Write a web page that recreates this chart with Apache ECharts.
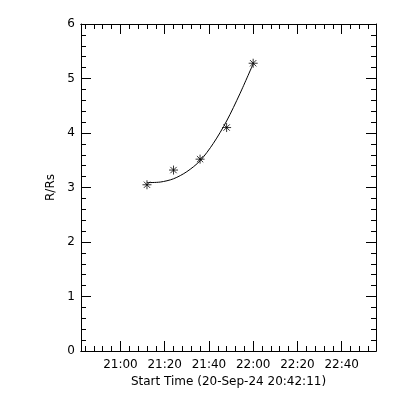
<!DOCTYPE html>
<html><head><meta charset="utf-8">
<script src="https://cdn.jsdelivr.net/npm/echarts@6/dist/echarts.min.js"></script>
<style>html,body{margin:0;padding:0;background:#fff}#c{width:400px;height:400px}</style>
</head><body><div id="c"></div>
<script>
// x values are minutes after 21:00 (start time 20:42:11)
const obsTimes = [12, 24, 36, 48, 60];
const obsHeights = [3.05, 3.32, 3.52, 4.10, 5.28];
const fitTimes = [12, 18, 24, 30, 36, 42, 48, 54, 60];
const fitHeights = [3.09, 3.10, 3.16, 3.29, 3.49, 3.81, 4.22, 4.72, 5.27];
const xMajorTicks = [0, 20, 40, 60, 80, 100];
const xMajorLabels = ['21:00', '21:20', '21:40', '22:00', '22:20', '22:40'];
const xMinorTicks = [-16,-12,-8,-4,4,8,12,16,24,28,32,36,44,48,52,56,64,68,72,76,84,88,92,96,104,108,112];
const xMin = -17.8167, xMax = 115.5167;
const yMin = 0, yMax = 6;

const font = 'DejaVu Sans';
const chart = echarts.init(document.getElementById('c'));
function xAx(pos, ticks, len, labels, name) {
  return {
    type: 'value', position: pos, min: xMin, max: xMax,
    axisLine: {show: true, onZero: false, lineStyle: {color: '#000', width: 1}},
    axisTick: {show: true, inside: true, length: len, customValues: ticks, lineStyle: {color: '#000'}},
    axisLabel: labels ? {show: true, customValues: xMajorTicks, color: '#000', fontFamily: font, fontSize: 12, margin: 8,
      formatter: v => xMajorLabels[xMajorTicks.indexOf(Math.round(v))]} : {show: false},
    splitLine: {show: false},
    name: name || '', nameLocation: 'middle', nameGap: 24,
    nameTextStyle: {color: '#000', fontFamily: font, fontSize: 12}
  };
}
function yAx(pos, labels, name) {
  return {
    type: 'value', position: pos, min: yMin, max: yMax, interval: 1,
    axisLine: {show: true, onZero: false, lineStyle: {color: '#000', width: 1}},
    axisTick: {show: true, inside: true, length: 10, lineStyle: {color: '#000'}},
    minorTick: {show: true, splitNumber: 5, length: 5, lineStyle: {color: '#000'}},
    axisLabel: labels ? {show: true, color: '#000', fontFamily: font, fontSize: 12, margin: 6} : {show: false},
    splitLine: {show: false}, minorSplitLine: {show: false},
    name: name || '', nameLocation: 'middle', nameGap: 20, nameRotate: 90,
    nameTextStyle: {color: '#000', fontFamily: font, fontSize: 12}
  };
}
const xAxes = [
  xAx('bottom', xMajorTicks, 10, true, 'Start Time (20-Sep-24 20:42:11)'),
  xAx('bottom', xMinorTicks, 5, false),
  xAx('top', xMajorTicks, 10, false),
  xAx('top', xMinorTicks, 5, false)
];
chart.setOption({
  animation: false,
  backgroundColor: '#fff',
  grid: {left: 81, right: 24, top: 24, bottom: 49, containLabel: false},
  xAxis: xAxes,
  yAxis: [yAx('left', true, 'R/Rs'), yAx('right', false)],
  series: [
    {type: 'line', xAxisIndex: 0, yAxisIndex: 0, smooth: 0.3, showSymbol: false,
     lineStyle: {color: '#000', width: 1},
     data: fitTimes.map((t, i) => [t, fitHeights[i]])},
    {type: 'scatter', xAxisIndex: 0, yAxisIndex: 0,
     symbol: 'path://M0,5L10,5M5,0L5,10M1.5,1.5L8.5,8.5M1.5,8.5L8.5,1.5', symbolSize: 9,
     itemStyle: {color: 'none', borderColor: '#000', borderWidth: 1},
     data: obsTimes.map((t, i) => [t, obsHeights[i]])}
  ]
});
</script></body></html>
